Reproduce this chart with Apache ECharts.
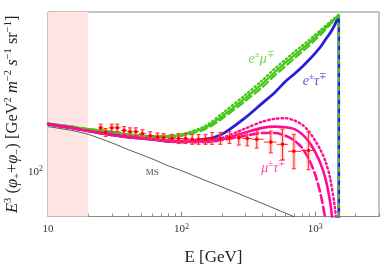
<!DOCTYPE html>
<html><head><meta charset="utf-8">
<script src="https://cdn.jsdelivr.net/npm/echarts@6/dist/echarts.min.js"></script>
<style>html,body{margin:0;padding:0;background:#fff}#c{width:382px;height:264px}</style>
</head><body><div id="c"></div>
<script>
// ---------- data ----------
const curveE      = [10,15,20,30,40,60,80,100,150,200,300,400,500,600,700,800,900,1000,1100,1200,1300,1400,1500];
const emuSolid    = [163,158,154,150,146,143,143,145,156,175,211,243,275,302,326,348,369,391,412,432,452,471,490];
const emuDotted   = [163,158,154,150,146,143,144,146,159,180,218,252,285,312,337,359,380,401,421,440,458,475,490];
const emuDashed   = [163,158,154,150,146,143,142,144,154,171,205,235,266,292,316,338,359,381,402,424,446,467,490];
const etauSolid   = [162,156,152,146,142,139,136,136,139,146,173,200,224,250,270,290,311,333,356,384,410,443,490];

const mutauSolidE = [10,15,20,30,40,60,80,100,150,200,300,400,500,600,700,800,900,1000,1100,1200,1300,1350,1400];
const mutauSolid  = [162,156,151,145,142,139,137,136,136,139,149,156,158,157,154,146,135,122,108,92,72,60,48];
const mutauDotE   = [10,15,20,30,40,60,80,100,150,200,300,400,500,600,700,800,900,1000,1100,1200,1300,1400,1450,1500];
const mutauDotted = [162,156,151,145,142,139,137,137,137,141,155,166,171,172,168,161,150,137,124,110,92,70,58,45];
const mutauDashE  = [10,15,20,30,40,60,80,100,150,200,300,400,500,600,700,800,900,1000,1100,1200,1250];
const mutauDashed = [162,156,151,145,142,139,136,135,135,138,144,148,148,144,137,127,113,97,79,60,50];

const msE = [10,15,20,30,40,60,80,100,150,200,300,400,500,600,700,800,1000];
const msV = [158,152,146,134,125,114,106,101,91.6,85.7,77.8,72.6,68.7,65.7,63.2,61.1,57.7];

const dropE = [1500,1500];
const dropV = [490,40];

const dataE  = [24.8,27.0,30.0,33.0,37.1,41.1,45.4,50.9,58.2,66.0,73.2,84.7,94.9,107,120,134,151,169,195,228,268,310,365,465,569,692,889];
const dataV  = [156,149,156,156,152,150,150,147,144,142,141,140,140,140,139,139,139,140,140,141,141,140,139,135,132,123,124];
const dataHi = [162,155,162,162,158,156,156,153,150,148,147,146,147,147,146,146,146,149,149,150,151,150,152,151,154,146,150];
const dataLo = [150,143,150,150,146,144,144,141,138,137,136,135,133,133,132,132,132,132,132,133,131,130,127,121,113,103,102];

const shadeRange = [10,20];
const xMajor = [10,100,1000];
const xMinor = [20,30,40,50,60,70,80,90,200,300,400,500,600,700,800,900,2000,3000];
const yMajor = [100];
const yMinor = [70,80,90,200,300,400,500];

const annotations = [
  {text:'{i|e}{s|±}{i|μ}{s|∓}', pos:[397,313], color:'#4ccc14'},
  {text:'{i|e}{s|±}{i|τ}{s|∓}', pos:[995,250], color:'#3322d0'},
  {text:'{i|μ}{s|±}{i|τ}{s|∓}', pos:[489,104], color:'#ff1a96'},
  {text:'MS', pos:[60.3,99], color:'#222'}
];

// ---------- chart ----------
const FONT = 'Liberation Serif';
const GREEN = '#44c814', BLUE = '#2a1ed6', MAG = '#ff0a96', AX = '#8a8a8a';
const pairs = (xs, ys) => xs.map((x, i) => [x, ys[i]]);

// bin edges: geometric midpoints between neighbouring points
const edges = [];
for (let i = 0; i < dataE.length; i++) {
  const lo = i > 0 ? Math.sqrt(dataE[i-1]*dataE[i]) : dataE[0]*dataE[0]/Math.sqrt(dataE[0]*dataE[1]);
  const hi = i < dataE.length-1 ? Math.sqrt(dataE[i]*dataE[i+1]) : dataE[i]*dataE[i]/Math.sqrt(dataE[i-1]*dataE[i]);
  edges.push([lo, hi]);
}
const pts = dataE.map((e, i) => [e, dataV[i], dataLo[i], dataHi[i], edges[i][0], edges[i][1]]);

function fmtPow(v) {
  const e = Math.round(Math.log10(v));
  return e === 1 ? '10' : '10{s|' + e + '}';
}

function line(data, color, width, type, z, smooth) {
  return {type:'line', data, symbol:'none', smooth: smooth === undefined ? 0.3 : smooth, z,
    lineStyle:{color, width, type, cap: type === 'solid' ? 'butt' : 'round'}, silent:true, clip:true};
}

const series = [
  {type:'line', data:[], z:1, silent:true,
   markArea:{silent:true, itemStyle:{color:'#ffe4e4'}, data:[[{xAxis:shadeRange[0]},{xAxis:shadeRange[1]}]]}},
  line(pairs(msE, msV), '#2f5b2a', 0.9, 'solid', 3),
  line(pairs(curveE, emuSolid), GREEN, 2.2, 'solid', 4),
  line(pairs(curveE, etauSolid), BLUE, 2.8, 'solid', 5),
  line(pairs(dropE, dropV), BLUE, 2.6, 'solid', 5, false),
  line(pairs(curveE, emuDotted), GREEN, 2.4, [1.2, 3], 6),
  line(pairs(curveE, emuDashed), GREEN, 2.2, [7, 4], 6),
  line(pairs(dropE, dropV), GREEN, 2.2, [3, 6], 6, false),
  line(pairs(mutauSolidE, mutauSolid), MAG, 2.6, 'solid', 7),
  line(pairs(mutauDotE, mutauDotted), MAG, 2.4, [1.5, 3], 7),
  line(pairs(mutauDashE, mutauDashed), MAG, 2.6, [8, 4], 7),
  {type:'custom', z:9, clip:true, silent:true, data:pts,
   renderItem(params, api) {
     const E = api.value(0), V = api.value(1), lo = api.value(2), hi = api.value(3);
     const p = api.coord([E, V]), pl = api.coord([E, lo]), ph = api.coord([E, hi]);
     const xl = api.coord([api.value(4), V])[0], xh = api.coord([api.value(5), V])[0];
     const x = p[0];
     return {type:'group', children:[
       {type:'rect', shape:{x:x-2, y:ph[1], width:4, height:pl[1]-ph[1]}, style:{fill:'rgba(255,120,120,0.3)'}},
       {type:'line', shape:{x1:x, y1:ph[1], x2:x, y2:pl[1]}, style:{stroke:'#ff2a2a', lineWidth:1}},
       {type:'line', shape:{x1:x-2, y1:ph[1], x2:x+2, y2:ph[1]}, style:{stroke:'#ff2a2a', lineWidth:1}},
       {type:'line', shape:{x1:x-2, y1:pl[1], x2:x+2, y2:pl[1]}, style:{stroke:'#ff2a2a', lineWidth:1}},
       {type:'line', shape:{x1:xl, y1:p[1], x2:xh, y2:p[1]}, style:{stroke:'#ff2a2a', lineWidth:1}},
       {type:'circle', shape:{cx:x, cy:p[1], r:1.8}, style:{fill:'#ff0000'}}
     ]};
   }},
  ...annotations.map(a => ({type:'scatter', data:[a.pos], symbolSize:0, z:10, silent:true,
     label:{show:true, position:'inside', formatter:a.text, color:a.color, fontFamily:FONT,
       fontSize: a.text === 'MS' ? 9 : 14, lineHeight:18,
       rich:{i:{fontStyle:'italic', fontSize:14, lineHeight:18, color:a.color, fontFamily:FONT},
             s:{fontSize:9, lineHeight:10, verticalAlign:'top', color:a.color, fontFamily:FONT}}}}))
];

const tickLabel = {fontFamily:FONT, fontSize:11, color:'#333', lineHeight:14,
  rich:{s:{fontSize:8, lineHeight:8, verticalAlign:'top', fontFamily:FONT, color:'#333'}}};

const option = {
  animation:false,
  backgroundColor:'#fff',
  grid:{left:48, right:3, top:12, bottom:47.5, show:true, borderColor:AX, borderWidth:1, backgroundColor:'transparent',
        containLabel:false, outerBoundsMode:'none'},
  xAxis:[
    {type:'log', logBase:10, min:10, max:3000, splitLine:{show:false},
     axisLine:{show:true, lineStyle:{color:AX, width:1}},
     axisTick:{show:true, inside:true, length:5, customValues:xMajor, lineStyle:{color:AX}},
     axisLabel:Object.assign({customValues:xMajor, formatter:fmtPow, margin:6, showMinLabel:true, showMaxLabel:true}, tickLabel),
     name:'E [GeV]', nameLocation:'middle', nameGap:33, nameMoveOverlap:false,
     nameTextStyle:{fontFamily:FONT, fontSize:17, color:'#222'}},
    {type:'log', logBase:10, min:10, max:3000, position:'bottom', splitLine:{show:false},
     axisLine:{show:false}, axisLabel:{show:false},
     axisTick:{show:true, inside:true, length:3, customValues:xMinor, lineStyle:{color:AX}}}
  ],
  yAxis:[
    {type:'log', logBase:10, min:63.5, max:505, splitLine:{show:false},
     axisLine:{show:true, lineStyle:{color:AX, width:1}},
     axisTick:{show:true, inside:true, length:5, customValues:yMajor, lineStyle:{color:AX}},
     axisLabel:Object.assign({customValues:yMajor, formatter:fmtPow, margin:5}, tickLabel),
     name:'{i|E}{sup|3} ({i|φ}{sub|+}+{i|φ}{sub|−}) [GeV{sup|2} {i|m}{sup|−2} {i|s}{sup|−1} sr{sup|−1}]',
     nameLocation:'middle', nameGap:25, nameRotate:90, nameMoveOverlap:false,
     nameTextStyle:{fontFamily:FONT, fontSize:16.5, color:'#222', lineHeight:20,
       rich:{i:{fontStyle:'italic', fontSize:16.5, lineHeight:20, fontFamily:FONT, color:'#222'},
             sup:{fontSize:10.5, lineHeight:11, verticalAlign:'top', fontFamily:FONT, color:'#222'},
             sub:{fontSize:10.5, lineHeight:11, verticalAlign:'bottom', fontFamily:FONT, color:'#222'}}}},
    {type:'log', logBase:10, min:63.5, max:505, position:'left', splitLine:{show:false},
     axisLine:{show:false}, axisLabel:{show:false},
     axisTick:{show:true, inside:true, length:3, customValues:yMinor, lineStyle:{color:AX}}}
  ],
  series: series.map(s => Object.assign({xAxisIndex:0, yAxisIndex:0}, s))
};

const chart = echarts.init(document.getElementById('c'), null, {renderer:'canvas'});
chart.setOption(option);
</script>
</body></html>
